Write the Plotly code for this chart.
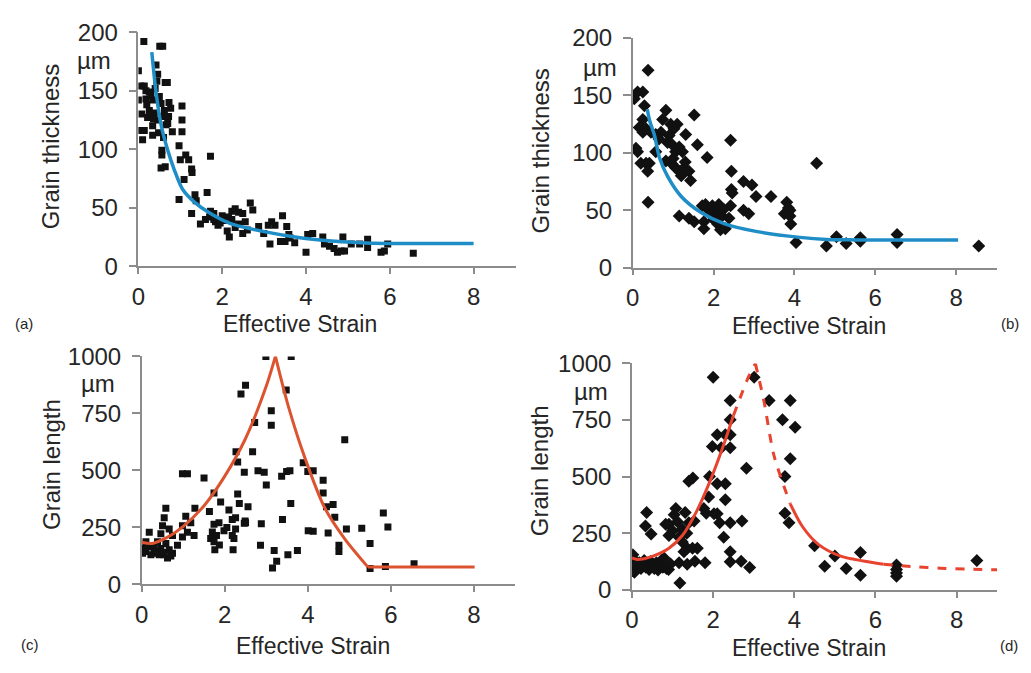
import plotly.graph_objects as go

# ---------------- data ----------------
# (a) grain thickness, scatter (squares)
a_x = [0.13,0.51,0.58,0.0,0.42,0.46,0.44,0.64,0.69,0.06,0.14,0.18,0.26,0.0,0.18,0.34,0.73,0.54,0.77,1.04,
       0.26,0.38,0.58,0.72,0.22,0.46,1.04,0.66,0.34,0.02,0.14,0.81,1.04,0.34,0.1,0.97,0.56,0.56,1.13,1.72,
       1.0,1.2,1.27,0.54,0.64,1.28,1.09,0.97,1.35,1.64,1.38,1.27,1.48,1.6,1.72,1.7,1.8,1.84,1.9,1.8,
       2.0,2.12,2.17,2.23,2.31,2.39,2.49,2.23,2.39,2.49,2.31,2.67,2.73,2.55,2.87,2.99,3.1,3.18,3.26,3.14,
       3.44,3.39,3.5,3.54,3.59,3.73,3.62,4.0,4.04,4.16,4.4,4.44,4.56,4.67,4.75,4.84,4.88,4.92,5.08,5.28,
       5.47,5.47,5.79,5.87,5.95,6.56,0.3,0.5,0.62,0.4,0.2,0.7,0.48,0.08,0.36,0.6,2.05,2.15,2.6,1.95]
a_y = [192,188,188,167,172,164,158,157,157,154,154,150,149,142,143,142,140,139,135,137,
       133,131,128,128,127,125,125,121,120,116,116,115,115,112,108,103,99,95,95,94,
       91,91,83,84,85,80,74,57,61,63,56,45,36,40,47,42,45,38,35,40,
       43,30,25,47,49,46,45,40,36,28,33,54,48,38,34,28,35,38,35,19,
       43,21,21,34,27,20,24,12,27,28,25,19,17,15,12,13,25,13,19,19,
       23,16,12,13,19,11,146,145,133,152,138,122,114,130,126,110,39,42,31,37]
# (a) fitted curve
a_fit_x = [0.32,0.42,0.54,0.70,0.85,1.05,1.33,1.72,2.2,3.0,3.9,4.6,5.2,5.6,6.5,8.0]
a_fit_y = [183,149,121,99,83,66,55,45,36.4,29.5,24.1,21.5,20.2,19.6,19.4,19.4]

# (b) grain thickness, scatter (diamonds)
b_x = [0.04,0.12,0.25,0.38,0.29,0.25,0.16,0.25,0.33,0.45,0.57,0.70,0.82,0.74,0.08,0.12,0.2,0.33,0.41,0.37,
       0.38,0.57,0.82,0.86,0.94,1.02,1.1,0.98,1.06,1.15,1.23,0.98,1.06,1.15,1.27,1.31,1.39,1.43,1.52,1.6,
       1.84,1.15,1.39,1.52,1.72,1.76,1.76,1.8,1.88,1.97,2.05,2.13,2.21,2.17,2.29,2.38,2.42,2.44,2.44,2.42,
       2.46,2.74,2.74,2.87,2.95,3.05,3.42,3.81,3.85,3.89,3.75,3.89,3.91,4.04,4.55,4.79,5.04,5.28,5.63,5.63,
       6.54,6.54,8.56,0.65,1.0,1.2,0.9,1.3,2.0,2.25,1.95,2.1]
b_y = [147,153,153,172,141,129,122,118,121,118,116,118,137,129,104,101,91,91,91,84,
       57,101,93,109,125,121,125,107,101,105,101,90,87,84,87,116,84,76,133,107,
       96,45,43,40,54,40,34,55,50,54,48,55,45,33,34,43,54,68,84,111,
       65,75,50,47,72,62,62,57,52,50,47,45,38,22,91,19,27,21,26,23,
       29,22,19,112,95,80,115,92,42,51,47,38]
# (b) fitted curve
b_fit_x = [0.36,0.42,0.54,0.66,0.87,1.2,1.69,2.26,3.08,4.14,4.8,5.5,8.05]
b_fit_y = [138,128,115,96,79,62,48,38.4,31.4,26.4,24.6,24.2,24.2]

# (c) grain length, scatter (squares)
c_x = [2.99,3.6,3.48,2.39,2.5,3.12,3.12,2.72,2.67,2.27,2.31,2.8,2.95,2.47,0.98,1.1,1.5,3.0,3.49,3.37,
       3.57,3.89,4.0,4.13,4.37,4.37,4.45,4.61,4.65,4.89,4.93,5.3,4.49,4.01,4.13,3.59,3.39,4.75,4.75,5.5,
       5.82,5.93,5.5,5.87,6.56,3.19,3.25,3.15,3.52,3.75,2.88,2.86,2.31,2.35,2.56,2.49,2.47,2.26,2.18,2.1,
       1.74,1.9,1.63,1.28,1.26,1.74,1.86,1.66,1.74,1.76,1.87,2.18,2.2,2.22,2.26,1.98,2.5,1.06,0.98,0.98,
       1.1,1.18,0.58,0.54,0.5,0.46,0.66,0.74,0.18,0.1,0.02,0.1,0.26,0.3,0.42,0.54,0.66,0.74,0.86,0.58,
       0.38,0.46,0.02,0.22,0.34,0.62,0.05,0.14,0.3,0.5,0.7,1.7,1.8,2.05]
c_y = [1000,1000,853,835,874,762,698,710,582,582,537,499,492,492,485,485,467,436,495,474,
       499,534,495,499,457,401,341,351,295,635,243,247,226,236,233,355,285,172,144,180,
       313,252,70,79,91,149,102,72,130,149,266,172,397,355,341,278,268,292,285,327,
       401,362,320,334,215,264,271,201,187,152,173,215,152,201,243,236,271,299,257,208,
       229,271,334,292,257,222,243,215,229,187,159,144,165,137,130,130,152,137,172,180,
       187,158,137,130,144,116,150,170,160,140,125,230,215,250]
# (c) fitted curve: rising branch, falling branch, plateau
c_rise_x = [0.0,0.25,0.6,1.0,1.5,2.0,2.5,3.0,3.22]
c_rise_y = [185,180,205,255,345,475,640,870,1000]
c_fall_x = [3.22,3.53,3.93,4.41,4.89,5.45]
c_fall_y = [1000,782,555,335,200,76]
c_flat_x = [5.45,8.02]
c_flat_y = [76,76]

# (d) grain length, scatter (diamonds)
d_x = [2.0,3.01,2.42,3.38,3.9,3.71,4.02,2.42,2.1,2.3,2.42,1.98,2.2,2.42,3.9,2.82,3.77,1.91,2.1,2.3,
       2.3,1.4,1.5,1.89,1.77,1.83,2.02,2.1,2.16,2.42,2.71,3.77,3.87,2.26,2.42,2.42,2.69,2.9,0.36,0.33,
       0.47,0.83,0.91,1.04,1.08,1.31,1.12,1.24,1.35,1.4,1.53,1.0,0.91,1.16,1.24,1.36,1.49,1.61,1.28,1.16,
       1.36,1.55,1.8,1.18,0.02,0.02,0.06,0.1,0.14,0.18,0.22,0.26,0.3,0.34,0.38,0.42,0.46,0.5,0.55,0.6,
       0.64,0.68,0.72,0.76,0.79,0.85,0.9,0.95,4.5,4.75,5.0,5.28,5.63,5.63,6.52,6.52,6.52,6.52,8.5]
d_y = [939,939,836,836,836,751,718,751,685,685,685,633,628,628,579,537,501,501,469,469,
       398,480,494,410,360,339,336,336,297,297,304,339,297,233,169,124,127,99,342,282,
       247,290,290,332,360,342,301,268,250,297,304,261,240,233,212,184,184,184,169,120,
       113,127,120,31,155,113,78,125,100,120,95,110,130,100,118,90,125,108,95,120,
       88,112,130,100,141,95,90,115,195,105,150,95,165,65,110,90,75,60,130]
# (d) fitted curve pieces: solid rise, dashed near the peak, solid tail, dashed tail
d_rise_solid_x = [0.0,0.1,0.3,0.5,0.91,1.24,1.57,1.89,2.22,2.5]
d_rise_solid_y = [141,135,138,148,184,240,339,466,621,770]
d_peak_dash_x = [2.5,2.87,3.04]
d_peak_dash_y = [770,940,1000]
d_fall_dash_x = [3.04,3.25,3.5,3.9]
d_fall_dash_y = [1000,835,593,380]
d_tail_solid_x = [3.9,4.2,4.6,5.16,5.7,6.2]
d_tail_solid_y = [380,280,200,148,128,113]
d_tail_dash_x = [6.2,7.0,7.6,8.3,9.0]
d_tail_dash_y = [113,102,96,92,89]

x_ticks = [0, 2, 4, 6, 8]
thick_ticks = [0, 50, 100, 150, 200]
length_ticks = [0, 250, 500, 750, 1000]

# ---------------- figure ----------------
W, H = 1031, 673
FONT = "Liberation Sans, Arial, sans-serif"
TXT = "#262626"
AX = "#8c8c8c"
BLUE = "#1f8dc6"
RED_C = "#dc5330"
RED_D = "#e8432f"


def px2x(p):
    return p / W


def px2y(p):
    return (H - p) / H


fig = go.Figure()

panels = {
    # name: (x0px, x1px, y_bottom_px, y_top_px, yrange, yticks)
    "a": (132.3, 512.0, 262.7, 19.0, [0, 200], thick_ticks),
    "b": (630.0, 996.3, 264.3, 25.0, [0, 200], thick_ticks),
    "c": (135.7, 511.8, 594.3, 356.7, [0, 1000], length_ticks),
    "d": (629.3, 996.9, 600.0, 364.0, [0, 1000], length_ticks),
}
axis_ids = {"a": ("x", "y"), "b": ("x2", "y2"), "c": ("x3", "y3"), "d": ("x4", "y4")}

layout_axes = {}
for i, (name, (x0, x1, yb, yt, yr, yt_vals)) in enumerate(panels.items()):
    xa = "xaxis" if i == 0 else f"xaxis{i+1}"
    ya = "yaxis" if i == 0 else f"yaxis{i+1}"
    xid, yid = axis_ids[name]
    layout_axes[xa] = dict(
        domain=[px2x(x0), px2x(x1)], range=[0, 9], anchor=yid,
        tickvals=x_ticks, showgrid=False, zeroline=False,
        showline=True, linecolor=AX, linewidth=1.5,
        ticks="outside", ticklen=6, tickcolor=AX, tickwidth=1.5,
        tickfont=dict(family=FONT, size=24, color=TXT), ticklabelstandoff=2,
        fixedrange=True,
    )
    layout_axes[ya] = dict(
        domain=[px2y(yb), px2y(yt)], range=yr, anchor=xid,
        tickvals=yt_vals, showgrid=False, zeroline=False,
        showline=True, linecolor=AX, linewidth=1.5,
        ticks="outside", ticklen=8, tickcolor=AX, tickwidth=1.5,
        tickfont=dict(family=FONT, size=24, color=TXT), ticklabelstandoff=6,
        fixedrange=True,
    )

sq = dict(symbol="square", size=7, color="#111111")
dm = dict(symbol="diamond", size=10, color="#111111")


def line(x, y, xa, ya, color, dash="solid", spline=True, width=3):
    fig.add_trace(go.Scatter(
        x=x, y=y, mode="lines", xaxis=xa, yaxis=ya,
        line=dict(color=color, width=width, dash=dash,
                  shape="spline" if spline else "linear", smoothing=0.8)))


fig.add_trace(go.Scatter(x=a_x, y=a_y, mode="markers", marker=sq, xaxis="x", yaxis="y"))
line(a_fit_x, a_fit_y, "x", "y", BLUE, width=3.5)

fig.add_trace(go.Scatter(x=b_x, y=b_y, mode="markers", marker=dm, xaxis="x2", yaxis="y2"))
line(b_fit_x, b_fit_y, "x2", "y2", BLUE, width=3.5)

fig.add_trace(go.Scatter(x=c_x, y=c_y, mode="markers", marker=sq, xaxis="x3", yaxis="y3"))
line(c_rise_x, c_rise_y, "x3", "y3", RED_C)
line(c_fall_x, c_fall_y, "x3", "y3", RED_C)
line(c_flat_x, c_flat_y, "x3", "y3", RED_C, spline=False)

fig.add_trace(go.Scatter(x=d_x, y=d_y, mode="markers", marker=dm, xaxis="x4", yaxis="y4"))
line(d_rise_solid_x, d_rise_solid_y, "x4", "y4", RED_D)
line(d_peak_dash_x, d_peak_dash_y, "x4", "y4", RED_D, dash="dash")
line(d_fall_dash_x, d_fall_dash_y, "x4", "y4", RED_D, dash="dash")
line(d_tail_solid_x, d_tail_solid_y, "x4", "y4", RED_D)
line(d_tail_dash_x, d_tail_dash_y, "x4", "y4", RED_D, dash="dash")


def ann(text, xp, yp, size=24, angle=0):
    fig.add_annotation(text=text, x=px2x(xp), y=px2y(yp), xref="paper", yref="paper",
                       showarrow=False, textangle=angle, xanchor="center", yanchor="middle",
                       font=dict(family=FONT, size=size, color=TXT))


ann("Effective Strain", 295, 323, size=23)
ann("Effective Strain", 807, 325, size=23)
ann("Effective Strain", 308, 658, size=23)
ann("Effective Strain", 807, 660, size=23)
ann("Grain thickness", 44, 138, angle=-90)
ann("Grain thickness", 537, 143, angle=-90)
ann("Grain length", 44, 469, angle=-90)
ann("Grain length", 537, 476, angle=-90)
ann("µm", 88, 48)
ann("µm", 597, 56)
ann("µm", 92, 385)
ann("µm", 588, 393)
ann("(a)", 17, 322, size=15)
ann("(b)", 1010, 322, size=15)
ann("(c)", 23, 657, size=15)
ann("(d)", 1009, 658, size=15)

fig.update_layout(
    width=W, height=H, margin=dict(l=0, r=0, t=0, b=0),
    paper_bgcolor="white", plot_bgcolor="white", showlegend=False,
    **layout_axes,
)

fig.write_html(
    "out.html",
    config={"displayModeBar": False},
    post_script=(
        "document.documentElement.style.margin='0';"
        "document.body.style.margin='0';document.body.style.padding='0';"
        "document.body.style.overflow='hidden';"
    ),
)
